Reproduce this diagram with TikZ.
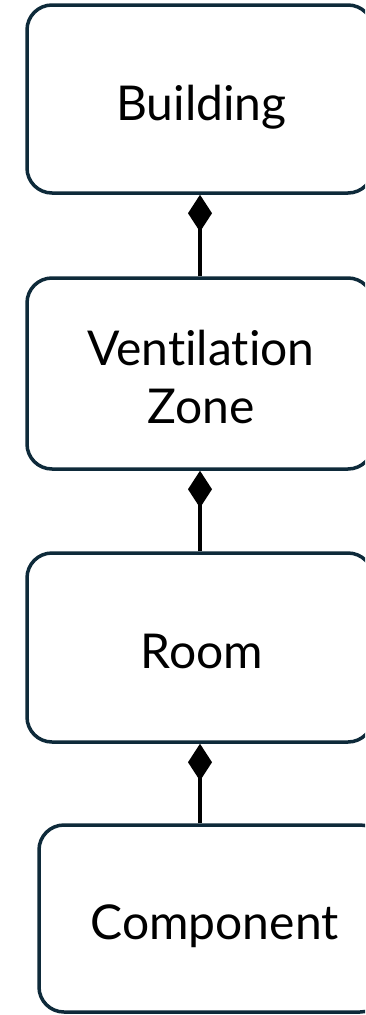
\documentclass[tikz,border=0pt]{standalone}
\usepackage{fontspec}
\setmainfont{Lato}[Ligatures=NoCommon]
\usetikzlibrary{arrows.meta}
\definecolor{boxline}{RGB}{14,42,58}
\begin{document}
\begin{tikzpicture}[x=1pt,y=-1pt,
  box/.style={draw=boxline, line width=3.5pt, rounded corners=25pt, fill=white,
    inner sep=0pt, minimum width=346pt},
  lbl/.style={anchor=base, font=\fontsize{48}{58}\selectfont, text=black, inner sep=0pt},
  comp/.style={draw=black, line width=4pt, -{Diamond[length=37pt, width=24pt, fill=black]}}]
\useasboundingbox (0,0) rectangle (365,1015);
\clip (0,0) rectangle (365,1015);
\fill[white] (0,0) rectangle (365,1015);
\node[box, minimum height=188pt] (building) at (200,99) {};
\node[box, minimum height=191pt] (zone) at (200,373.5) {};
\node[box, minimum height=189pt] (room) at (200,647.5) {};
\node[box, minimum height=187pt] (component) at (212,918.5) {};
\node[lbl] (tb) at (201.5,120) {Building};
\node[lbl] (tz1) at (201,365) {Ventilation};
\node[lbl] (tz2) at (201,423) {Zone};
\node[lbl] (tr) at (202,668) {Room};
\node[lbl] (tc) at (214.5,939) {Component};
\draw[comp] (zone.north) -- (building.south);
\draw[comp] (room.north) -- (zone.south);
\draw[comp] (room.south |- component.north) -- (room.south);
\end{tikzpicture}
\end{document}
